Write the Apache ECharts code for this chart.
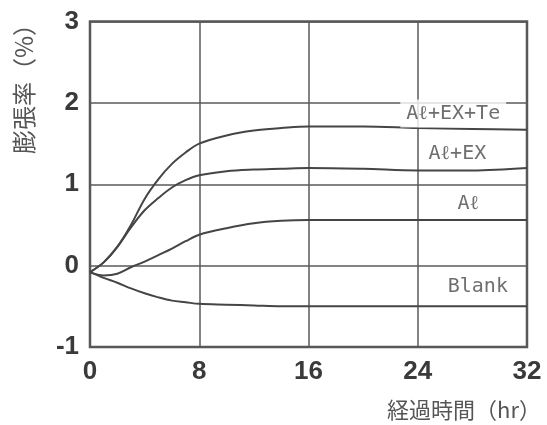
<!DOCTYPE html>
<html>
<head>
<meta charset="utf-8">
<script src="https://cdn.jsdelivr.net/npm/echarts@6/dist/echarts.min.js"></script>
<style>
  html, body { margin: 0; padding: 0; background: #fff; }
  #chart { width: 547px; height: 425px; }
</style>
</head>
<body>
<div id="chart"></div>
<script>
// Elapsed time (hr) at which expansion was read
const hours = [0, 1, 2, 3, 4, 5, 6, 7, 8, 10, 12, 14, 16, 20, 24, 28, 32];

// Expansion rate (%) for each formulation
const alExTe = [-0.08, 0.04, 0.23, 0.50, 0.82, 1.06, 1.25, 1.39, 1.50, 1.60, 1.66, 1.69, 1.71, 1.71, 1.69, 1.68, 1.67];
const alEx   = [-0.08, 0.04, 0.23, 0.47, 0.68, 0.83, 0.96, 1.05, 1.11, 1.16, 1.18, 1.19, 1.20, 1.19, 1.17, 1.17, 1.20];
const al     = [-0.08, -0.12, -0.10, -0.02, 0.05, 0.13, 0.21, 0.30, 0.38, 0.46, 0.52, 0.55, 0.56, 0.56, 0.56, 0.56, 0.56];
const blank  = [-0.08, -0.15, -0.21, -0.28, -0.34, -0.39, -0.43, -0.45, -0.47, -0.48, -0.49, -0.50, -0.50, -0.50, -0.50, -0.50, -0.50];

const seriesNames = ['Aℓ+EX+Te', 'Aℓ+EX', 'Aℓ', 'Blank'];
const seriesValues = [alExTe, alEx, al, blank];

// Where each curve's name is written, in (hr, %) units
const nameAnchors = [[26.6, 1.87], [26.9, 1.37], [27.7, 0.76], [28.4, -0.26]];

const xTicks = [0, 8, 16, 24, 32];
const yTicks = [-1, 0, 1, 2, 3];

const ink = '#4a4a4a';
const chart = echarts.init(document.getElementById('chart'), null, { renderer: 'canvas' });

const lineSeries = seriesNames.map((name, i) => ({
  name: name,
  type: 'line',
  data: hours.map((h, k) => [h, seriesValues[i][k]]),
  smooth: 0.35,
  symbol: 'none',
  lineStyle: { color: '#454545', width: 2 },
  z: 3
}));

const nameSeries = {
  type: 'scatter',
  symbolSize: 0,
  silent: true,
  z: 4,
  data: seriesNames.map((name, i) => ({
    name: name,
    value: nameAnchors[i],
    label: i === 0 ? { backgroundColor: '#fff', padding: [4, 6] } : {}
  })),
  label: {
    show: true,
    position: 'inside',
    formatter: p => p.name,
    fontFamily: 'DejaVu Sans Mono, monospace',
    fontSize: 20,
    color: ink
  }
};

chart.setOption({
  animation: false,
  backgroundColor: '#fff',
  grid: {
    left: 90, top: 21.5, right: 20, bottom: 78,
    show: true, borderColor: '#555', borderWidth: 2.5, backgroundColor: 'transparent'
  },
  xAxis: {
    type: 'value',
    min: xTicks[0], max: xTicks[xTicks.length - 1], interval: 8,
    axisLine: { show: false },
    axisTick: { show: false },
    axisLabel: {
      margin: 12, color: '#3a3a3a', fontSize: 26, fontWeight: 'bold',
      fontFamily: 'Liberation Sans, Arial, sans-serif'
    },
    splitLine: { show: true, lineStyle: { color: '#5a5a5a', width: 1.5 } }
  },
  yAxis: {
    type: 'value',
    min: yTicks[0], max: yTicks[yTicks.length - 1], interval: 1,
    axisLine: { show: false },
    axisTick: { show: false },
    axisLabel: {
      margin: 11, color: '#3a3a3a', fontSize: 26, fontWeight: 'bold',
      fontFamily: 'Liberation Sans, Arial, sans-serif'
    },
    splitLine: { show: true, lineStyle: { color: '#5a5a5a', width: 1.5 } }
  },
  graphic: [
    {
      type: 'text',
      x: 24, y: 83,
      rotation: Math.PI / 2,
      style: {
        text: '膨張率（%）',
        fontFamily: 'Noto Sans CJK JP, sans-serif',
        fontSize: 24,
        fill: '#555',
        textAlign: 'center',
        textVerticalAlign: 'middle'
      }
    },
    {
      type: 'text',
      x: 541, y: 410,
      style: {
        text: '経過時間（hr）',
        fontFamily: 'Noto Sans CJK JP, sans-serif',
        fontSize: 22,
        fill: '#555',
        textAlign: 'right',
        textVerticalAlign: 'middle'
      }
    }
  ],
  series: lineSeries.concat([nameSeries])
});
</script>
</body>
</html>
